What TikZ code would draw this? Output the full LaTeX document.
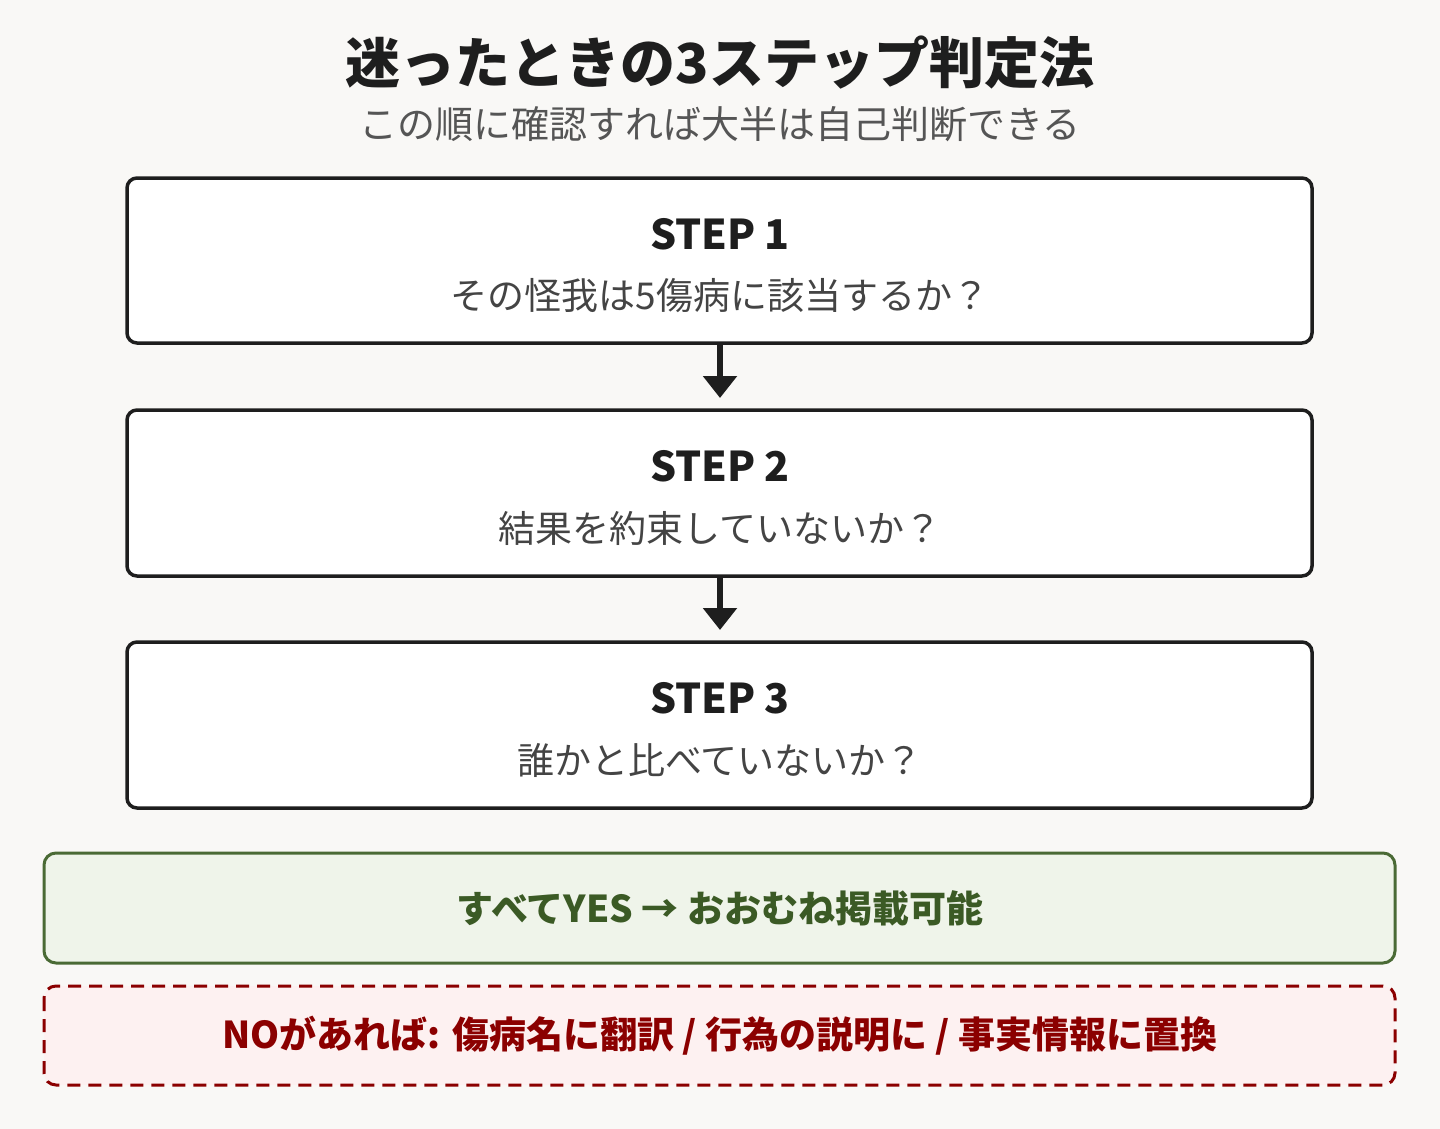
\documentclass[tikz,border=0pt]{standalone}
\usepackage{fontspec}
\setmainfont{Noto Sans CJK JP}
\usetikzlibrary{arrows.meta}
\definecolor{bgc}{HTML}{F9F8F6}
\definecolor{ink}{HTML}{1E1E1E}
\definecolor{subc}{HTML}{555555}
\definecolor{qc}{HTML}{444444}
\definecolor{gfill}{HTML}{EFF4EA}
\definecolor{gline}{HTML}{4A6A35}
\definecolor{gtext}{HTML}{3B5A25}
\definecolor{rfill}{HTML}{FDF1F1}
\definecolor{rline}{HTML}{8B0000}
\begin{document}
\begin{tikzpicture}[x=1pt,y=-1pt,
  stepbox/.style={draw=ink,line width=3.5pt,fill=white,rounded corners=10pt},
  steptitle/.style={font=\fontsize{41}{48}\selectfont\bfseries,text=ink,anchor=center,inner sep=0},
  stepq/.style={font=\fontsize{37}{44}\selectfont,text=qc,anchor=center,inner sep=0},
  flowarrow/.style={draw=ink,line width=6pt,-{Triangle[width=33pt,length=22pt]}},
  okbox/.style={draw=gline,line width=3pt,fill=gfill,rounded corners=12pt},
  ngbox/.style={draw=rline,line width=3pt,fill=rfill,rounded corners=12pt,dash pattern=on 13pt off 8pt}]
\path[fill=bgc] (0,0) rectangle (1440,1129);
\useasboundingbox (0,0) rectangle (1440,1129);
\node[font=\fontsize{55}{60}\selectfont\bfseries,text=ink,inner sep=0] (title) at (720,63) {迷ったときの3ステップ判定法};
\node[font=\fontsize{38}{44}\selectfont,text=subc,inner sep=0] (sub) at (720,124) {この順に確認すれば大半は自己判断できる};
% boxes
\draw[stepbox] (127,178) rectangle (1312,343);
\coordinate (b1t) at (720,178); \coordinate (b1b) at (720,343);
\node[steptitle] (s1) at (720,234) {STEP 1};
\node[stepq] (q1) at (720,296) {その怪我は5傷病に該当するか？};
\draw[stepbox] (127,410) rectangle (1312,576);
\coordinate (b2t) at (720,410); \coordinate (b2b) at (720,576);
\node[steptitle] (s2) at (720,466) {STEP 2};
\node[stepq] (q2) at (720,528) {結果を約束していないか？};
\draw[stepbox] (127,642) rectangle (1312,808);
\coordinate (b3t) at (720,642);
\node[steptitle] (s3) at (720,698) {STEP 3};
\node[stepq] (q3) at (720,760) {誰かと比べていないか？};
% arrows
\coordinate (a1e) at (720,398);
\coordinate (a2e) at (720,630);
\draw[flowarrow] (b1b) -- (a1e);
\draw[flowarrow] (b2b) -- (a2e);
% result boxes
\draw[okbox] (44,853) rectangle (1395,963);
\node[font=\fontsize{37}{44}\selectfont\bfseries,text=gtext,inner sep=0] (ok) at (720,908) {すべてYES → おおむね掲載可能};
\draw[ngbox] (44,986) rectangle (1395,1085);
\node[font=\fontsize{37}{44}\selectfont\bfseries,text=rline,inner sep=0] (ng) at (720,1036) {NOがあれば: 傷病名に翻訳 / 行為の説明に / 事実情報に置換};
\end{tikzpicture}
\end{document}
